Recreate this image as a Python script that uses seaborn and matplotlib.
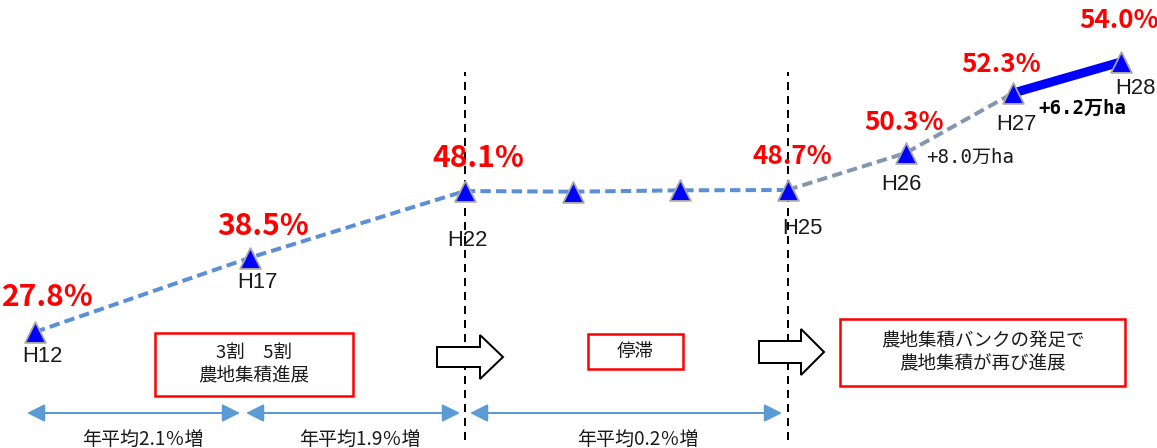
import numpy as np
import pandas as pd
import matplotlib
matplotlib.use("Agg")
import matplotlib.pyplot as plt
import matplotlib.transforms as mtransforms
from matplotlib.patches import Rectangle, Polygon, FancyArrowPatch
import seaborn as sns

# ---------------- data ----------------
periods = ["H12", "H17", "H22", "H23", "H24", "H25", "H26", "H27", "H28"]
rate = [27.8, 38.5, 48.1, 48.0, 48.5, 48.7, 50.3, 52.3, 54.0]
period_labels = ["H12", "H17", "H22", "", "", "H25", "H26", "H27", "H28"]
pct_shown = [True, True, True, False, False, True, True, True, True]
gain_labels = ["+8.0万ha", "+6.2万ha"]
avg_labels = ["年平均2.1％増", "年平均1.9％増", "年平均0.2％増"]
box_texts = ["3割　5割\n農地集積進展", "停滞", "農地集積バンクの発足で\n農地集積が再び進展"]

# ---------------- layout ----------------
W, H = 1157, 448
DPI = 72
x_slot = [0, 2, 4, 5, 6, 7, 8.1, 9.1, 10.1]
slot_px, slot0_px = 107.5, 35
# schematic (piecewise) vertical scale of the original figure
y_knot_val = [0.0, 27.8, 48.1, 48.7, 50.3, 52.3, 54.0, 80.0]
y_knot_pos = [-77.0, 116.0, 257.0, 258.0, 295.0, 355.0, 386.0, 854.0]

pct_off = [(13, 35), (13, 32), (13, 33), None, None, (5, 33), (-2, 31), (-12, 28), (-2, 42)]
pct_size = [30, 30, 30, None, None, 26, 26, 26, 26]
lab_off = [(7, -25), (7, -25), (2, -49), None, None, (15, -38), (-4, -31), (3, -31), (15, -26)]

sns.set_theme(style="white")
plt.rcParams["font.family"] = ["Noto Sans CJK JP", "DejaVu Sans"]

fig = plt.figure(figsize=(W / DPI, H / DPI), dpi=DPI)
ax = fig.add_axes([0, 0, 1, 1])
ax.set_axis_off()

fwd = lambda v: np.interp(v, y_knot_val, y_knot_pos)
inv = lambda p: np.interp(p, y_knot_pos, y_knot_val)
ax.set_yscale("function", functions=(fwd, inv))
ax.set_ylim(float(inv(0)), float(inv(H)))
ax.set_xlim(-slot0_px / slot_px, (W - slot0_px) / slot_px)

df = pd.DataFrame({"x": x_slot, "rate": rate, "period": periods})
seg1, seg2, seg3 = df.iloc[0:6], df.iloc[5:8], df.iloc[7:9]

sns.lineplot(data=seg1, x="x", y="rate", ax=ax, color="#5b8fd6", lw=4,
             linestyle=(0, (2.6, 1.3)), sort=False, estimator=None, zorder=2)
sns.lineplot(data=seg2, x="x", y="rate", ax=ax, color="#8497b0", lw=4,
             linestyle=(0, (2.6, 1.3)), sort=False, estimator=None, zorder=2)
sns.lineplot(data=seg3, x="x", y="rate", ax=ax, color="#0000ff", lw=9,
             sort=False, estimator=None, zorder=2, solid_capstyle="butt")
sns.scatterplot(data=df, x="x", y="rate", ax=ax, marker="^", s=430,
                color="#0000ff", edgecolor="#a6a6a6", linewidth=1.8, zorder=5)
ax.set_xlabel("")
ax.set_ylabel("")

# vertical dashed separators at H22 and H25
for i in (2, 5):
    ax.axvline(x_slot[i], ymin=(H - 440) / H, ymax=(H - 72) / H, color="black",
               lw=2, linestyle=(0, (4, 3)), zorder=1)

# percentage labels and period labels
for i in range(len(periods)):
    if pct_shown[i]:
        dx, dy = pct_off[i]
        ax.annotate(f"{rate[i]:.1f}%", (x_slot[i], rate[i]), xytext=(dx, dy),
                    textcoords="offset points", ha="center", va="center",
                    color="#ff0000", fontsize=pct_size[i], fontweight="bold",
                    family="Noto Sans CJK JP", zorder=6)
    if period_labels[i]:
        dx, dy = lab_off[i]
        ax.annotate(period_labels[i], (x_slot[i], rate[i]), xytext=(dx, dy),
                    textcoords="offset points", ha="center", va="center",
                    color="#1a1a1a", fontsize=22, family="Liberation Sans", zorder=6)

ax.annotate(gain_labels[0], (x_slot[6], rate[6]), xytext=(64, -4),
            textcoords="offset points", ha="center", va="center", color="#1a1a1a",
            fontsize=19, family=["DejaVu Sans Mono", "Noto Sans CJK JP"])
ax.annotate(gain_labels[1], (x_slot[7], rate[7]), xytext=(69, -15),
            textcoords="offset points", ha="center", va="center", color="black",
            fontsize=19, fontweight="bold", family=["DejaVu Sans Mono", "Noto Sans CJK JP"])

# ---- annotation layer in pixel coordinates (y from top) ----
pix = mtransforms.Affine2D().scale(1 / W, -1 / H).translate(0, 1) + fig.transFigure

boxes = [(155, 333, 353, 396), (588, 334, 683, 369), (840, 319, 1125, 386)]
for (x0, y0, x1, y1), txt in zip(boxes, box_texts):
    ax.add_patch(Rectangle((x0, y0), x1 - x0, y1 - y0, transform=pix, fill=False,
                           ec="#ff0000", lw=2.5, zorder=3))
    ax.text((x0 + x1) / 2, (y0 + y1) / 2, txt, transform=pix, ha="center",
            va="center", fontsize=18.5, color="#1a1a1a", linespacing=1.35, zorder=4)


def block_arrow(x0, xh, xt, yc, bh, hh):
    pts = [(x0, yc - bh), (xh, yc - bh), (xh, yc - hh), (xt, yc), (xh, yc + hh),
           (xh, yc + bh), (x0, yc + bh)]
    ax.add_patch(Polygon(pts, closed=True, transform=pix, fc="white", ec="black",
                         lw=2, zorder=4))


block_arrow(437, 480, 503, 357, 10, 22)
block_arrow(759, 801, 824, 352, 11, 23)

spans = [(27, 240), (246, 460), (470, 782)]
avg_cx = [143, 360, 638]
for (a, b), cx, txt in zip(spans, avg_cx, avg_labels):
    ax.add_patch(FancyArrowPatch((a, 413), (b, 413), transform=pix,
                                 arrowstyle="<|-|>,head_length=1.0,head_width=0.5",
                                 mutation_scale=15, color="#5b9bd5", lw=2,
                                 shrinkA=0, shrinkB=0, zorder=3))
    ax.text(cx, 439, txt, transform=pix, ha="center", va="center",
            fontsize=19, color="#1a1a1a")

fig.savefig("out.png", dpi=DPI)
